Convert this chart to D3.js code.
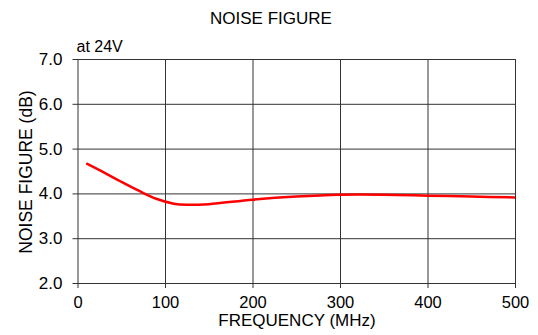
<!DOCTYPE html>
<html>
<head>
<meta charset="utf-8">
<script src="https://cdn.jsdelivr.net/npm/d3@7"></script>
<style>
  body { margin: 0; background: #fff; }
  text { font-family: "Liberation Sans", Arial, sans-serif; fill: #000; }
</style>
</head>
<body>
<script>
// data
var freqMHz = [10, 30, 50, 70, 90, 110, 125, 150, 200, 250, 300, 350, 400, 450, 500];
var noiseFigureDb = [4.67, 4.47, 4.26, 4.06, 3.88, 3.77, 3.745, 3.76, 3.86, 3.93, 3.97, 3.97, 3.95, 3.93, 3.91];
var xTicks = [0, 100, 200, 300, 400, 500];
var yTicks = [2, 3, 4, 5, 6, 7];

var svgWidth = 538;
var svgHeight = 335;

var margin = { top: 59, right: 23, bottom: 52, left: 77.5 };
var chartWidth = svgWidth - margin.left - margin.right;
var chartHeight = svgHeight - margin.top - margin.bottom;

var svg = d3.select("body")
  .append("svg")
  .attr("width", svgWidth)
  .attr("height", svgHeight);

var chartGroup = svg.append("g")
  .attr("transform", `translate(${margin.left}, ${margin.top})`);

var xScale = d3.scaleLinear()
  .domain([0, 500])
  .range([0, chartWidth]);

var yScale = d3.scaleLinear()
  .domain([2, 7])
  .range([chartHeight, 0]);

// vertical grid lines, with short tick below the axis
chartGroup.append("g")
  .attr("transform", `translate(0, ${chartHeight})`)
  .call(d3.axisBottom(xScale)
    .tickValues(xTicks)
    .tickSize(-chartHeight)
    .tickSizeOuter(0)
    .tickPadding(13)
    .tickFormat(d3.format("d")))
  .call(function(g) {
    g.select(".domain").remove();
    g.selectAll(".tick line").attr("stroke", "#333").attr("y2", -chartHeight).attr("y1", 5);
    g.selectAll(".tick text").attr("font-size", 16.5);
  });

// horizontal grid lines, extending a little left of the frame
chartGroup.append("g")
  .call(d3.axisLeft(yScale)
    .tickValues(yTicks)
    .tickSize(-chartWidth)
    .tickSizeOuter(0)
    .tickPadding(15)
    .tickFormat(d3.format(".1f")))
  .call(function(g) {
    g.select(".domain").remove();
    g.selectAll(".tick line").attr("stroke", "#333").attr("x1", -5).attr("x2", chartWidth);
    g.selectAll(".tick text").attr("font-size", 17);
  });

// curve
var line = d3.line()
  .x(function(d, i) { return xScale(freqMHz[i]); })
  .y(function(d) { return yScale(d); })
  .curve(d3.curveCatmullRom);

chartGroup.append("path")
  .datum(noiseFigureDb)
  .attr("fill", "none")
  .attr("stroke", "#ff0000")
  .attr("stroke-width", 2.5)
  .attr("d", line);

// titles
svg.append("text")
  .attr("x", 271)
  .attr("y", 24)
  .attr("text-anchor", "middle")
  .attr("font-size", 17)
  .text("NOISE FIGURE");

svg.append("text")
  .attr("x", margin.left - 1)
  .attr("y", 52)
  .attr("font-size", 16)
  .text("at 24V");

svg.append("text")
  .attr("x", 297)
  .attr("y", 326)
  .attr("text-anchor", "middle")
  .attr("font-size", 17)
  .text("FREQUENCY (MHz)");

svg.append("text")
  .attr("transform", `translate(32, 172) rotate(-90)`)
  .attr("text-anchor", "middle")
  .attr("font-size", 17.5)
  .text("NOISE FIGURE (dB)");
</script>
</body>
</html>
